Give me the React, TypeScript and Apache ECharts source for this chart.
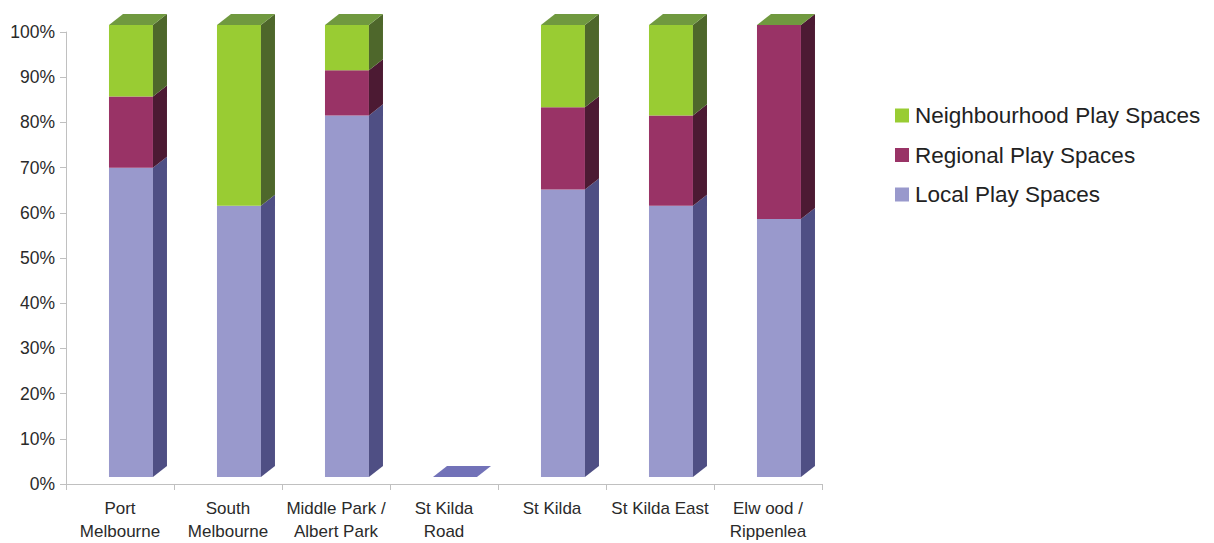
import React, { useEffect, useRef } from "react";
import * as echarts from "echarts";

// Suburbs along the x axis
const categories = [
  "Port\nMelbourne",
  "South\nMelbourne",
  "Middle Park /\nAlbert Park",
  "St Kilda\nRoad",
  "St Kilda",
  "St Kilda East",
  "Elw ood /\nRippenlea",
];

// Share of play spaces by type (%), null = no entry
const localShare: (number | null)[] = [68.4, 60, 80, 0, 63.6, 60, 57.1];
const regionalShare: (number | null)[] = [15.8, 0, 10, null, 18.2, 20, 42.9];
const neighbourhoodShare: (number | null)[] = [15.8, 40, 10, null, 18.2, 20, 0];

const yTicks = { min: 0, max: 100, interval: 10 };

const seriesDefs = [
  { name: "Local Play Spaces", values: localShare, front: "#9999cc", side: "#4f4f84", top: "#7272b8" },
  { name: "Regional Play Spaces", values: regionalShare, front: "#993366", side: "#4c1a33", top: "#7a2952" },
  { name: "Neighbourhood Play Spaces", values: neighbourhoodShare, front: "#99cc33", side: "#4e672b", top: "#70993f" },
];

const FONT = "'Liberation Sans', Arial, Helvetica, sans-serif";

function buildSeries() {
  const base = categories.map(() => 0);
  // index of the topmost present segment in each column
  const topIdx = categories.map((_, c) => {
    let t = -1;
    seriesDefs.forEach((s, i) => {
      if (s.values[c] !== null) t = i;
    });
    return t;
  });
  return seriesDefs.map((s, si) => {
    const data: any[] = [];
    s.values.forEach((v, c) => {
      if (v === null) return;
      const b = base[c];
      base[c] = b + v;
      data.push([c, b, b + v, topIdx[c] === si ? 1 : 0]);
    });
    return {
      name: s.name,
      type: "custom",
      itemStyle: { color: s.front },
      encode: { x: 0, y: [1, 2] },
      data,
      renderItem: (params: any, api: any) => {
        const cat = api.value(0);
        const lo = api.value(1);
        const hi = api.value(2);
        const isTop = api.value(3) === 1;
        const pLo = api.coord([cat, lo]);
        const pHi = api.coord([cat, hi]);
        const band = api.size([1, 0])[0];
        const w = band * 0.407;
        const off = band * 0.102;
        const dx = band * 0.13;
        const dy = dx * (11 / 14);
        const lift = 7;
        const L = pLo[0] - off;
        const R = L + w;
        const yb = pLo[1] - lift;
        const yt = pHi[1] - lift;
        const children: any[] = [];
        if (yb - yt > 0.3) {
          children.push({
            type: "polygon",
            shape: { points: [[L, yb], [R, yb], [R, yt], [L, yt]] },
            style: { fill: s.front },
          });
          children.push({
            type: "polygon",
            shape: { points: [[R, yb], [R + dx, yb - dy], [R + dx, yt - dy], [R, yt]] },
            style: { fill: s.side },
          });
        }
        if (isTop) {
          children.push({
            type: "polygon",
            shape: { points: [[L, yt], [R, yt], [R + dx, yt - dy], [L + dx, yt - dy]] },
            style: { fill: s.top },
          });
        }
        return { type: "group", children };
      },
    };
  });
}

export default function App() {
  const ref = useRef<HTMLDivElement>(null);

  useEffect(() => {
    if (!ref.current) return;
    const chart = echarts.init(ref.current, undefined, { renderer: "svg" });
    const axisColor = "#c0c0c0";
    chart.setOption({
      animation: false,
      backgroundColor: "#ffffff",
      grid: { left: 66, top: 32, width: 756, height: 454, containLabel: false },
      legend: {
        orient: "vertical",
        left: 895,
        top: 103,
        padding: 0,
        itemWidth: 14,
        itemHeight: 14,
        itemGap: 14.5,
        icon: "rect",
        data: ["Neighbourhood Play Spaces", "Regional Play Spaces", "Local Play Spaces"],
        textStyle: { fontFamily: FONT, fontSize: 22.5, color: "#222", lineHeight: 25, padding: [0, 0, 0, 1] },
      },
      xAxis: {
        type: "category",
        data: categories,
        boundaryGap: true,
        axisLine: { show: true, lineStyle: { color: axisColor, width: 1 } },
        axisTick: { show: true, length: 6, lineStyle: { color: axisColor } },
        axisLabel: {
          interval: 0,
          margin: 13,
          fontFamily: FONT,
          fontSize: 17,
          lineHeight: 23,
          color: "#2a2a2a",
        },
        splitLine: { show: false },
      },
      yAxis: {
        type: "value",
        min: yTicks.min,
        max: yTicks.max,
        interval: yTicks.interval,
        axisLine: { show: true, lineStyle: { color: axisColor, width: 1 } },
        axisTick: { show: true, length: 6, lineStyle: { color: axisColor } },
        axisLabel: {
          formatter: "{value}%",
          margin: 11,
          fontFamily: FONT,
          fontSize: 17.5,
          color: "#2a2a2a",
        },
        splitLine: { show: false },
      },
      series: buildSeries(),
    });
    return () => chart.dispose();
  }, []);

  return (
    <div
      ref={ref}
      style={{ position: "fixed", left: 0, top: 0, width: 1214, height: 543 }}
    />
  );
}
